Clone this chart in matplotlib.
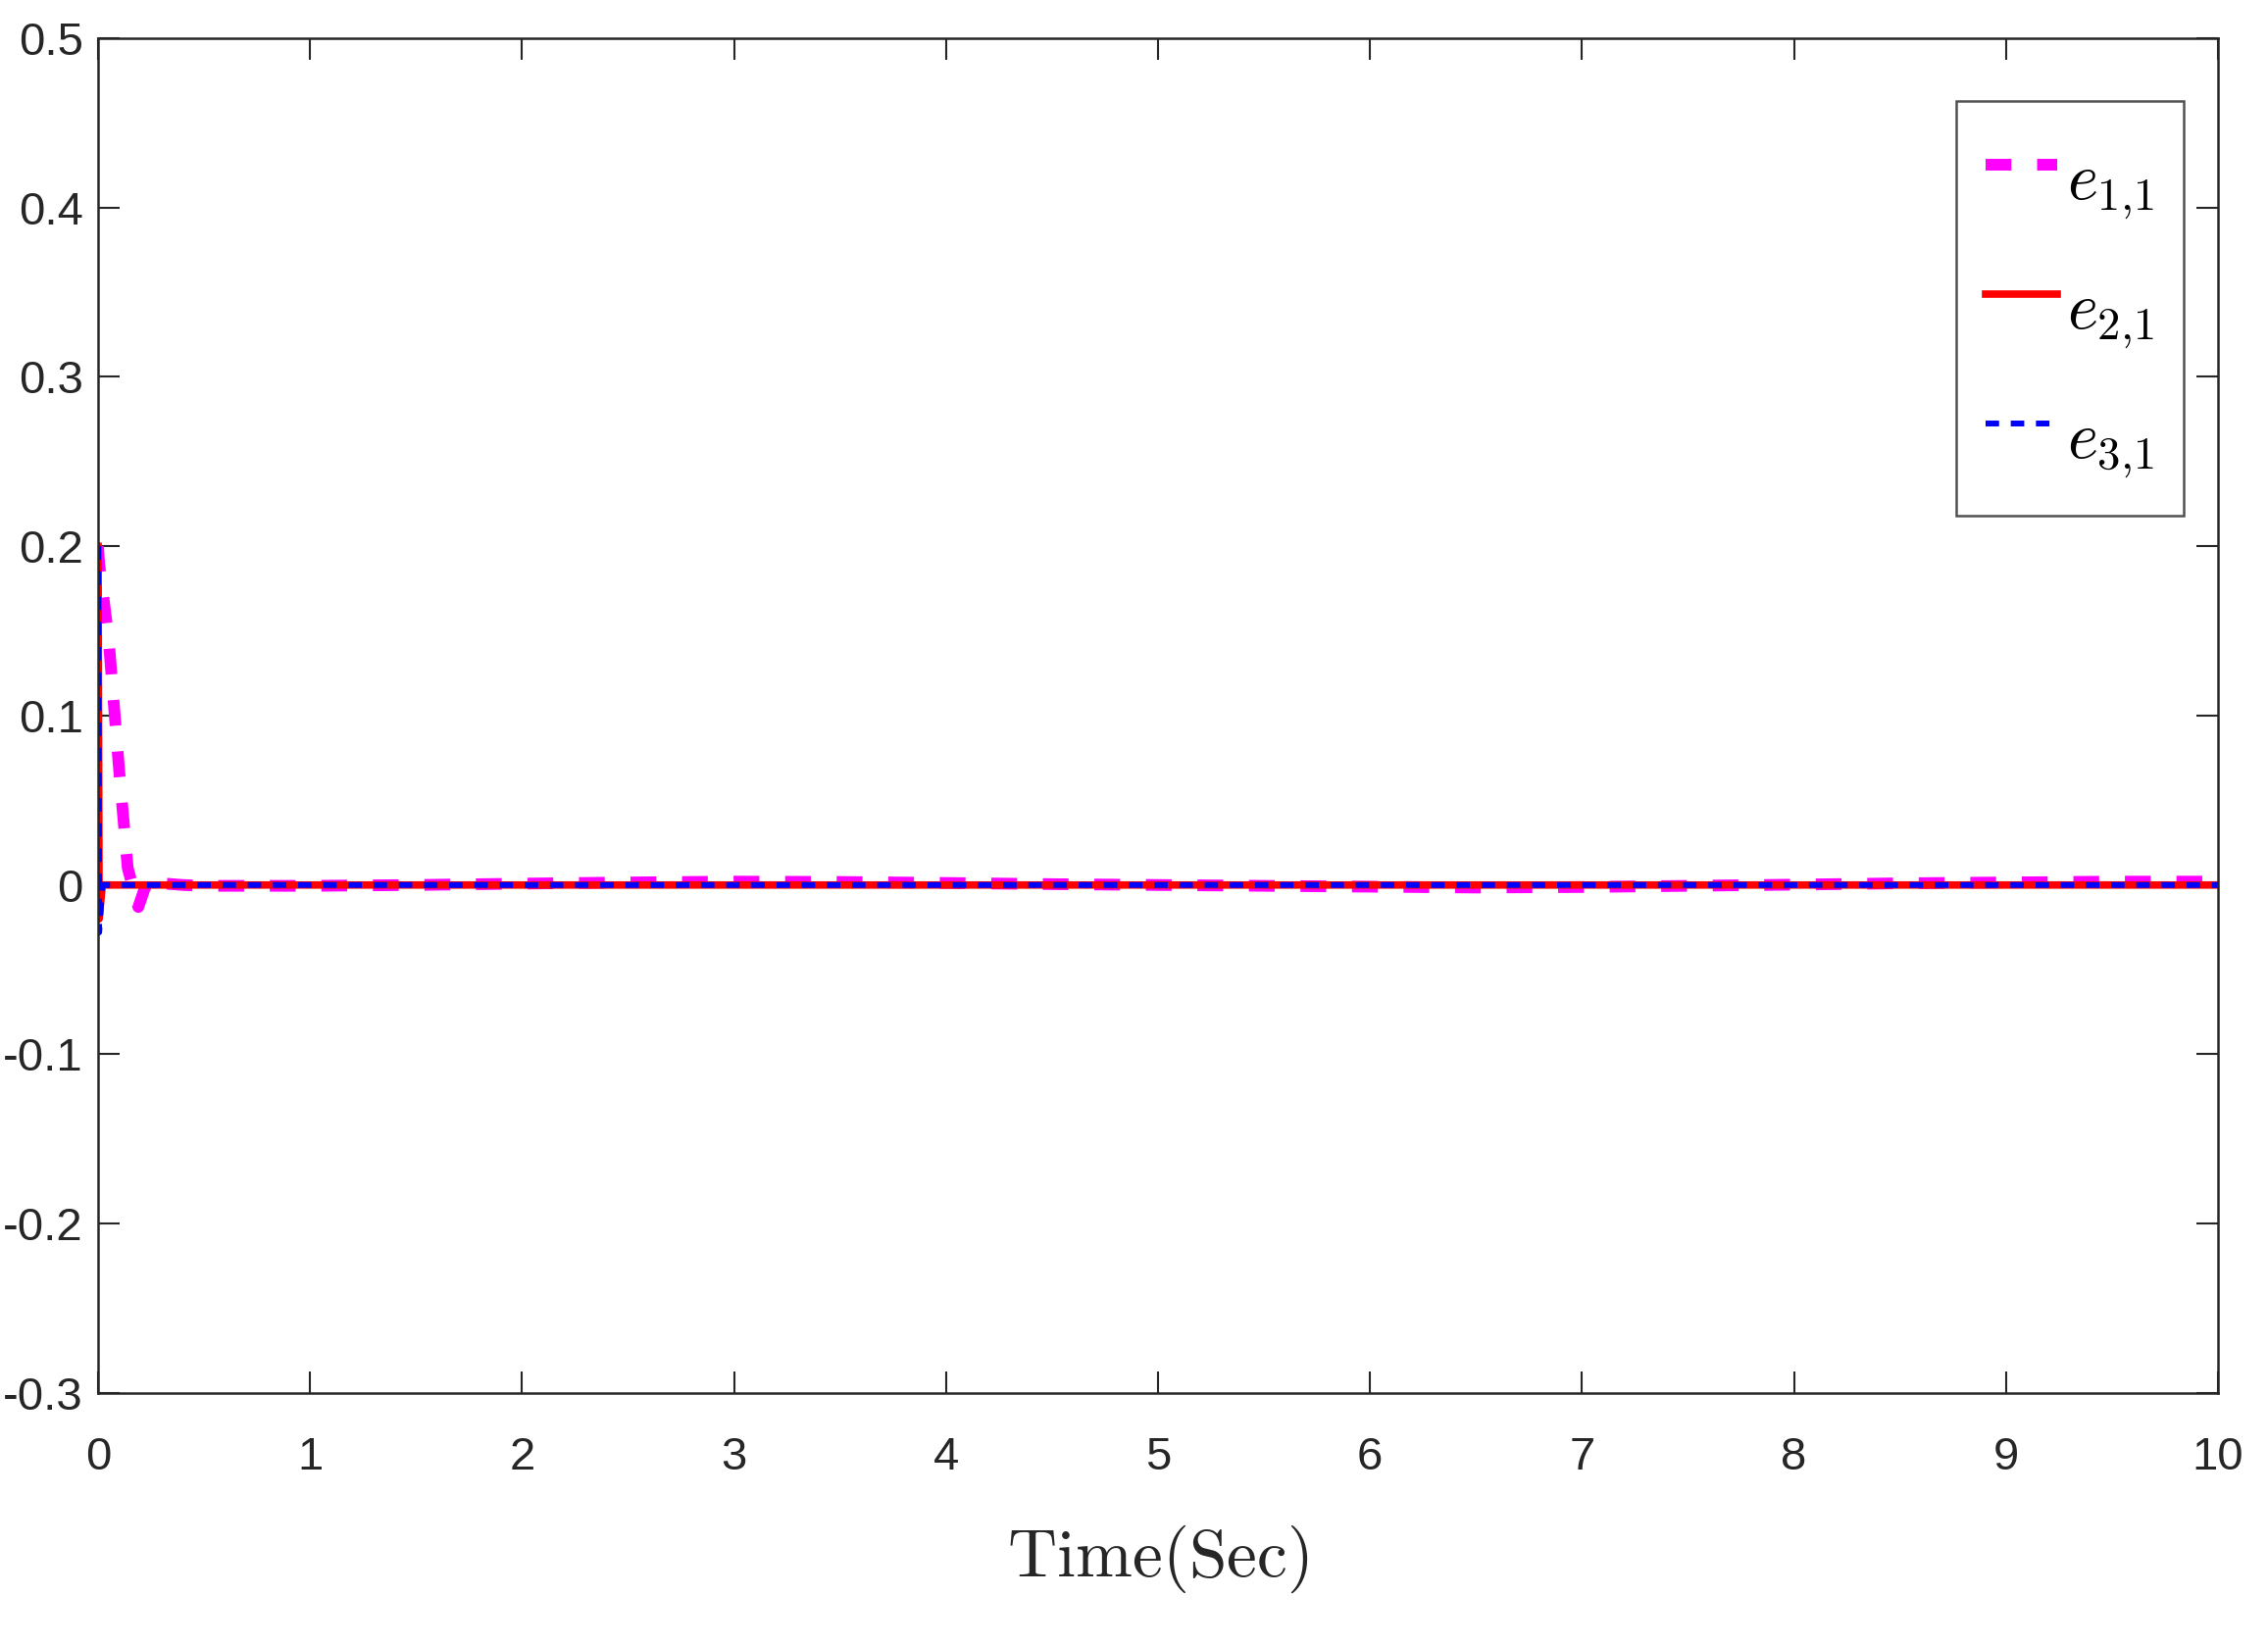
import matplotlib
matplotlib.use("Agg")
import matplotlib.pyplot as plt

plt.rcParams['mathtext.fontset'] = 'cm'

# time axis (sec)
t = [0, 0.005, 0.02, 0.05, 0.1, 0.14, 0.19, 0.22, 0.25, 0.3, 0.4, 0.5,
     1, 1.5, 2, 2.5, 3, 3.5, 4, 4.5, 5, 5.5, 6, 6.5, 7, 7.5, 8, 8.5, 9, 9.5, 10]

# e_{1,1}
e11 = [0.2, 0.19, 0.175, 0.145, 0.067, 0.01, -0.013, -0.002, 0.004, 0.001, 0.0, -0.0005,
       -0.0005, 0.0, 0.0008, 0.0015, 0.002, 0.0018, 0.0012, 0.0005, 0.0, -0.0005, -0.001,
       -0.0015, -0.0012, -0.0005, 0.0002, 0.001, 0.0015, 0.002, 0.002]
# e_{2,1}
e21 = [0.2, -0.02, 0.0, 0.0, 0.0, 0.0, 0.0, 0.0, 0.0, 0.0, 0.0, 0.0,
       0.0, 0.0, 0.0, 0.0, 0.0, 0.0, 0.0, 0.0, 0.0, 0.0, 0.0,
       0.0, 0.0, 0.0, 0.0, 0.0, 0.0, 0.0, 0.0]
# e_{3,1}
e31 = [0.2, -0.028, 0.0, 0.0, 0.0, 0.0, 0.0, 0.0, 0.0, 0.0, 0.0, 0.0,
       0.0, 0.0, 0.0, 0.0, 0.0, 0.0, 0.0, 0.0, 0.0, 0.0, 0.0,
       0.0, 0.0, 0.0, 0.0, 0.0, 0.0, 0.0, 0.0]

xticks = [0, 1, 2, 3, 4, 5, 6, 7, 8, 9, 10]
yticks = [-0.3, -0.2, -0.1, 0, 0.1, 0.2, 0.3, 0.4, 0.5]
ytick_labels = ["-0.3", "-0.2", "-0.1", "0", "0.1", "0.2", "0.3", "0.4", "0.5"]

fig = plt.figure(figsize=(23.13, 16.78), dpi=100)
ax = fig.add_axes([100 / 2313, 1 - 1421 / 1678, 2162 / 2313, 1382 / 1678])

ax.plot(t, e11, color='#ff00ff', lw=8.6, dashes=(2.2, 2.2), label=r'$e_{1{,}1}$')
ax.plot(t, e21, color='#ff0000', lw=5.5, label=r'$e_{2{,}1}$')
ax.plot(t, e31, color='#0000ff', lw=4.3, dashes=(2.3, 2.0), label=r'$e_{3{,}1}$')

ax.set_xlim(0, 10)
ax.set_ylim(-0.3, 0.5)
ax.set_xticks(xticks)
ax.set_xticklabels([str(v) for v in xticks])
ax.set_yticks(yticks)
ax.set_yticklabels(ytick_labels)

for lab in ax.get_xticklabels() + ax.get_yticklabels():
    lab.set_family(['Liberation Sans', 'DejaVu Sans'])
    lab.set_fontsize(34)
    lab.set_color('#262626')

ax.tick_params(direction='in', length=16, width=1.5, top=True, right=True, color='#262626')
ax.tick_params(axis='x', pad=32)
ax.tick_params(axis='y', pad=11)
for s in ax.spines.values():
    s.set_linewidth(1.8)
    s.set_color('#262626')

ax.set_xlabel(r'$\mathrm{Time(Sec)}$', fontsize=50, color='#262626', labelpad=32)

leg = ax.legend(loc='upper right', bbox_to_anchor=(2227 / 2313, 1 - 103 / 1678),
                bbox_transform=fig.transFigure, fontsize=48, handlelength=1.1,
                handleheight=1.9, handletextpad=0.15, labelspacing=0.5,
                borderpad=0.45, borderaxespad=0, fancybox=False, frameon=True)
leg.get_frame().set_edgecolor('#262626')
leg.get_frame().set_linewidth(1.8)

plt.savefig("out.png", dpi=100)
plt.close()
